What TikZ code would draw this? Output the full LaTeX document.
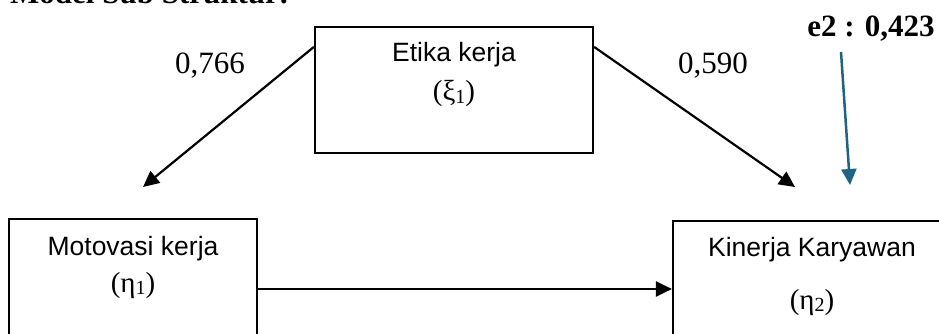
\documentclass[tikz,border=0pt]{standalone}
\usepackage{fontspec}
\setmainfont{Liberation Serif}
\newfontfamily\arialf{Liberation Sans}
\usetikzlibrary{arrows.meta,calc}
\definecolor{e2blue}{RGB}{31,99,130}
\newcommand{\mysub}[1]{\raisebox{-2pt}{\fontsize{20}{20}\selectfont #1}}
\begin{document}
\begin{tikzpicture}[x=1pt,y=-1pt,
  box/.style={draw, line width=2.2pt, rectangle, inner sep=0pt},
  lbl/.style={font=\arialf\fontsize{26.5}{26.5}\selectfont, anchor=base, inner sep=0pt},
  sym/.style={font=\fontsize{29}{29}\selectfont, anchor=base, inner sep=0pt},
  num/.style={font=\fontsize{31}{31}\selectfont, anchor=base, inner sep=0pt},
  arr/.style={-{Triangle[length=16pt,width=15pt]}, line width=2.2pt}]
\useasboundingbox (0,0) rectangle (939,334);
\clip (0,0) rectangle (939,334);
\node[inner sep=0pt, anchor=base west, font=\fontsize{31}{31}\selectfont\bfseries] (title) at (10,3.5) {Model Sub Struktur:};
\node[box, minimum width=278, minimum height=126] (etika) at (454,90) {};
\node[box, minimum width=248, minimum height=140] (motiv) at (133,289) {};
\node[box, minimum width=290, minimum height=136] (kin) at (818,289) {};
\node[lbl] (etikaT) at (454,62) {Etika kerja};
\node[sym] (etikaS) at (454,101) {(ξ\mysub{1})};
\node[lbl] (motivT) at (133,255) {Motovasi kerja};
\node[sym] (motivS) at (133,292) {(η\mysub{1})};
\node[lbl] (kinT) at (812,256) {Kinerja Karyawan};
\node[sym] (kinS) at (812,309) {(η\mysub{2})};
\node[num] (w1) at (210,74) {0,766};
\node[num] (w2) at (713,74) {0,590};
\node[num, font=\fontsize{31}{31}\selectfont\bfseries] (e2) at (871,37) {e2 : 0,423};
\coordinate (tipL) at (143,187);
\coordinate (tipR) at (795,187);
\coordinate (e2s) at (841,52);
\coordinate (e2t) at (850,185);
\draw[arr] ($(etika.north west)+(0,21)$) -- (tipL);
\draw[arr] ($(etika.north east)+(0,21)$) -- (tipR);
\draw[arr] (motiv.east) -- (kin.west);
\draw[arr, draw=e2blue, fill=e2blue, line width=2.5pt] (e2s) -- (e2t);
\end{tikzpicture}
\end{document}
